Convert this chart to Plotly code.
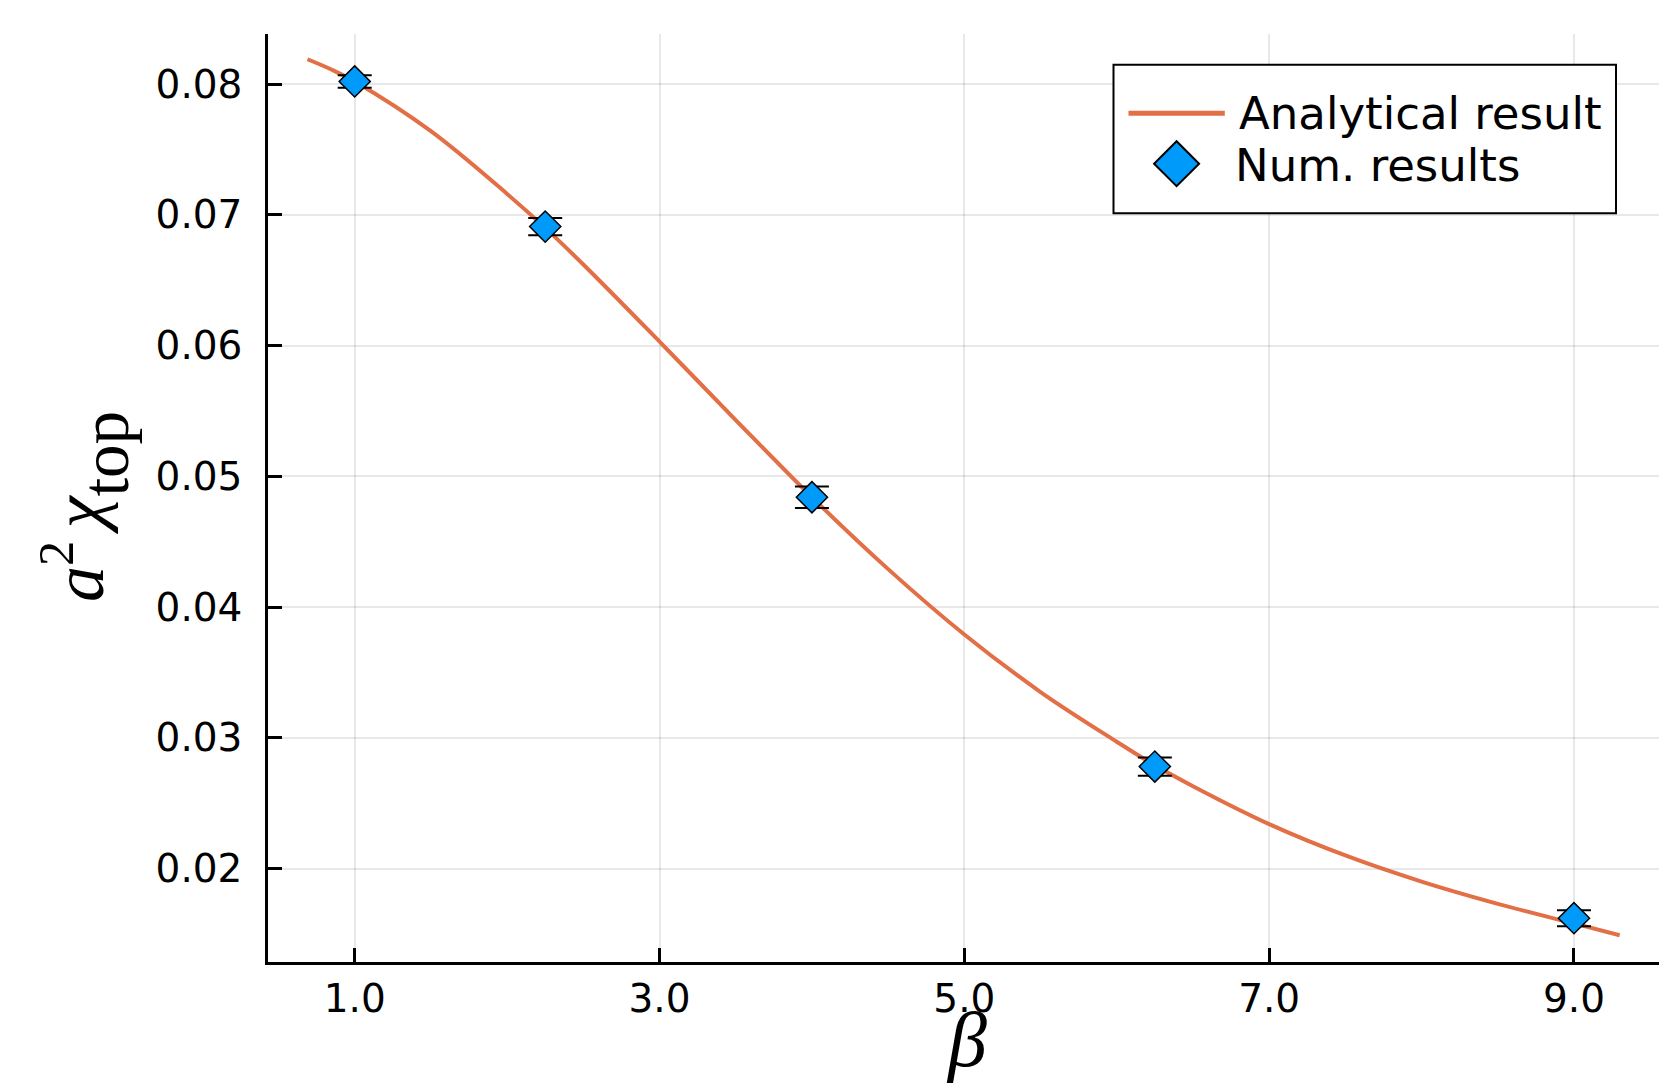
import plotly.graph_objects as go

# ---------------- data ----------------
beta_curve = [0.69, 0.85, 1.0, 1.5, 2.0, 2.25, 2.5, 3.0, 3.5, 4.0, 4.5, 5.0,
              5.5, 6.0, 6.25, 6.5, 7.0, 7.5, 8.0, 8.5, 9.0, 9.3]
chi_curve = [0.0819, 0.0811, 0.0802, 0.0764, 0.0716, 0.0690, 0.0662, 0.0603,
             0.0543, 0.0484, 0.0429, 0.0379, 0.0335, 0.0297, 0.0279, 0.0263,
             0.0234, 0.0210, 0.0190, 0.0173, 0.0158, 0.0149]

beta_points = [1.0, 2.25, 4.0, 6.25, 9.0]
chi_points = [0.0802, 0.0691, 0.0484, 0.0278, 0.0162]
chi_err = [0.00048, 0.00066, 0.00082, 0.00070, 0.00061]

x_ticks = [1.0, 3.0, 5.0, 7.0, 9.0]
x_tick_labels = ["1.0", "3.0", "5.0", "7.0", "9.0"]
y_ticks = [0.02, 0.03, 0.04, 0.05, 0.06, 0.07, 0.08]
y_tick_labels = ["0.02", "0.03", "0.04", "0.05", "0.06", "0.07", "0.08"]

legend_names = ["Analytical result", "Num. results"]
x_title = "<i>β</i>"
y_title = ("<span style='font-size:72px'><i>a</i><sup>2 </sup><i>χ</i></span>"
           "<sub><span style='font-size:67px'>top</span></sub>")

LINE_COLOR = "#E26F46"
MARK_COLOR = "#009AFA"

W, H = 1659, 1087
PL, PR, PT, PB = 268, 1659, 34, 962


def px(x):
    return (x - PL) / (PR - PL)


def py(y):
    return (PB - y) / (PB - PT)


fig = go.Figure()
fig.add_trace(go.Scatter(
    x=beta_curve, y=chi_curve, mode="lines", name=legend_names[0],
    line=dict(color=LINE_COLOR, width=4, shape="spline", smoothing=1.0),
    showlegend=False,
))
fig.add_trace(go.Scatter(
    x=beta_points, y=chi_points, mode="markers", name=legend_names[1],
    marker=dict(symbol="diamond", size=24, color=MARK_COLOR,
                line=dict(color="black", width=1.5)),
    error_y=dict(type="data", array=chi_err, color="black", thickness=2, width=17),
    showlegend=False,
))

tick_font = dict(family="DejaVu Sans", size=39, color="black")
math_font = "Liberation Serif"
grid_col = "rgba(0,0,0,0.09)"

fig.update_layout(
    width=W, height=H,
    margin=dict(l=PL, r=W - PR, t=PT, b=H - PB),
    paper_bgcolor="white", plot_bgcolor="white",
    showlegend=False,
    xaxis=dict(
        range=[0.431, 9.558], tickvals=x_ticks, ticktext=x_tick_labels,
        showgrid=True, gridcolor=grid_col, gridwidth=1.5,
        zeroline=False, showline=True, linecolor="black", linewidth=2.5,
        ticks="inside", ticklen=14, tickwidth=2.5, tickcolor="black",
        tickfont=tick_font, ticklabelstandoff=0,
    ),
    yaxis=dict(
        range=[0.01285, 0.08383], tickvals=y_ticks, ticktext=y_tick_labels,
        showgrid=True, gridcolor=grid_col, gridwidth=1.5,
        zeroline=False, showline=True, linecolor="black", linewidth=2.5,
        ticks="inside", ticklen=14, tickwidth=2.5, tickcolor="black",
        tickfont=tick_font, ticklabelstandoff=15,
    ),
)

# ---------------- axis titles ----------------
fig.add_annotation(xref="paper", yref="paper", x=px(966), y=py(994),
                   text=x_title, showarrow=False, xanchor="center", yanchor="top",
                   font=dict(family=math_font, size=78, color="black"))
fig.add_annotation(xref="paper", yref="paper", x=px(85), y=py(507),
                   text=y_title, showarrow=False, xanchor="center", yanchor="middle",
                   textangle=-90,
                   font=dict(family=math_font, size=120, color="black"))

# ---------------- legend box (drawn like the reference) ----------------
fig.add_shape(type="rect", xref="paper", yref="paper",
              x0=px(1113.5), x1=px(1616), y0=py(213.3), y1=py(64.7),
              line=dict(color="black", width=2), fillcolor="white", layer="above")
fig.add_shape(type="line", xref="paper", yref="paper",
              x0=px(1128.5), x1=px(1224.8), y0=py(113.3), y1=py(113.3),
              line=dict(color=LINE_COLOR, width=5), layer="above")
cx, cy, r = 1176.6, 163.7, 22.5
diamond = "M {},{} L {},{} L {},{} L {},{} Z".format(
    px(cx - r), py(cy), px(cx), py(cy - r), px(cx + r), py(cy), px(cx), py(cy + r))
fig.add_shape(type="path", xref="paper", yref="paper", path=diamond,
              line=dict(color="black", width=2), fillcolor=MARK_COLOR, layer="above")
legend_font = dict(family="DejaVu Sans", size=45, color="black")
fig.add_annotation(xref="paper", yref="paper", x=px(1237), y=py(113),
                   text=legend_names[0], showarrow=False, xanchor="left",
                   yanchor="middle", font=legend_font)
fig.add_annotation(xref="paper", yref="paper", x=px(1233), y=py(165),
                   text=legend_names[1], showarrow=False, xanchor="left",
                   yanchor="middle", font=legend_font)

fig.write_html("out.html", config={"displayModeBar": False},
               post_script="document.body.style.margin='0px';")
